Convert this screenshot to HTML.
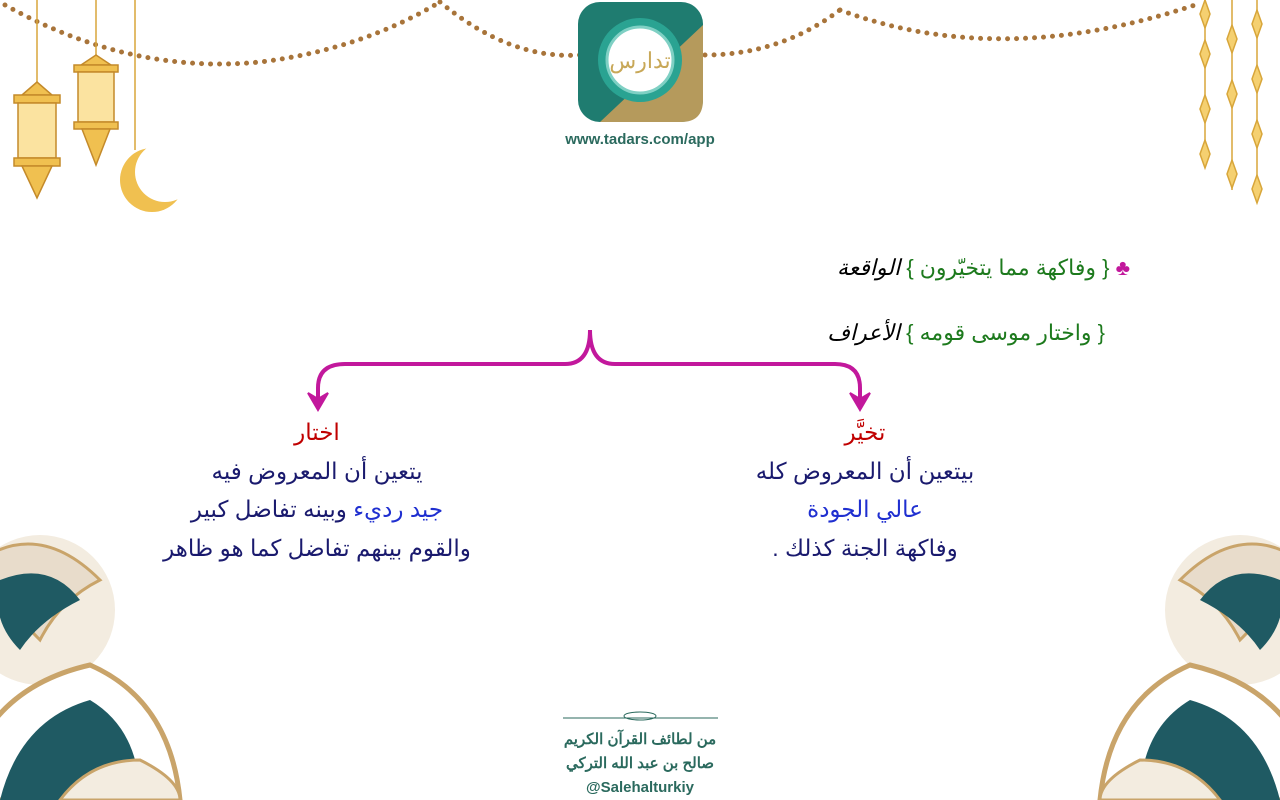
<!DOCTYPE html>
<html><head><meta charset="utf-8"><style>
html,body{margin:0;padding:0;background:#fff;}
#c{position:relative;width:1280px;height:800px;overflow:hidden;background:#fff;font-family:"Liberation Sans","DejaVu Sans",sans-serif;}
.t{position:absolute;direction:rtl;white-space:nowrap;font-size:23px;text-align:center;}
</style></head><body><div id="c">
<svg width="1280" height="800" style="position:absolute;left:0;top:0">
<defs><mask id="m"><rect x="100" y="130" width="100" height="100" fill="#fff"/><circle cx="165" cy="172" r="30" fill="#000"/></mask></defs>
<g fill="none" stroke="#a8743a" stroke-width="5" stroke-linecap="round" stroke-dasharray="0 9">
<path d="M5 5 Q130 75 260 62 Q360 50 440 2"/>
<path d="M440 2 Q510 60 580 55"/>
<path d="M705 55 Q780 55 840 10"/>
<path d="M840 10 Q1000 70 1195 5"/>
</g>
<g stroke="#d8a63a" stroke-width="1.5" fill="none">
<line x1="37" y1="0" x2="37" y2="85"/><line x1="96" y1="0" x2="96" y2="55"/><line x1="135" y1="0" x2="135" y2="150"/>
</g>
<g fill="#f0c050" stroke="#c48a2a" stroke-width="1.5">
<path d="M22 95 L37 82 L52 95 Z"/><rect x="14" y="95" width="46" height="8"/><rect x="18" y="103" width="38" height="55" fill="#fbe3a0"/>
<rect x="14" y="158" width="46" height="8"/><path d="M22 166 L37 198 L52 166Z"/>
<path d="M81 65 L96 55 L111 65Z"/><rect x="74" y="65" width="44" height="7"/><rect x="78" y="72" width="36" height="50" fill="#fbe3a0"/>
<rect x="74" y="122" width="44" height="7"/><path d="M82 129 L96 165 L110 129Z"/>
</g>
<circle cx="152" cy="180" r="32" fill="#f0c050" mask="url(#m)"/>
<g stroke="#d8a63a" stroke-width="1.5" fill="#f5d070">
<line x1="1205" y1="0" x2="1205" y2="165"/><line x1="1232" y1="0" x2="1232" y2="190"/><line x1="1257" y1="0" x2="1257" y2="200"/>
<path d="M1205 0 l5 14 -5 14 -5 -14z"/><path d="M1205 40 l5 14 -5 14 -5 -14z"/><path d="M1205 95 l5 14 -5 14 -5 -14z"/><path d="M1205 140 l5 14 -5 14 -5 -14z"/>
<path d="M1232 25 l5 14 -5 14 -5 -14z"/><path d="M1232 80 l5 14 -5 14 -5 -14z"/><path d="M1232 160 l5 14 -5 14 -5 -14z"/>
<path d="M1257 10 l5 14 -5 14 -5 -14z"/><path d="M1257 65 l5 14 -5 14 -5 -14z"/><path d="M1257 120 l5 14 -5 14 -5 -14z"/><path d="M1257 175 l5 14 -5 14 -5 -14z"/>
</g>
<rect x="578" y="2" width="125" height="120" rx="22" fill="#1f7c70"/>
<path d="M703 25 L703 100 Q703 122 681 122 L600 122 Z" fill="#b59a5c"/>
<circle cx="640" cy="60" r="42" fill="#2aa392"/>
<circle cx="640" cy="60" r="33" fill="#fff" stroke="#7fd0c4" stroke-width="3"/>
<text x="640" y="68" font-size="22" fill="#c8a858" text-anchor="middle" font-family="Noto Sans CJK SC, sans-serif">تدارس</text>
<text x="640" y="144" font-size="15" font-weight="bold" fill="#2b6a5e" text-anchor="middle" font-family="Liberation Sans">www.tadars.com/app</text>
<path d="M318 400 L318 388 Q318 364 345 364 L565 364 Q590 364 590 330 Q590 364 615 364 L835 364 Q860 364 860 388 L860 400" fill="none" stroke="#c2189c" stroke-width="4"/>
<path d="M308 393 L318 410 L328 393 L318 399Z" fill="#c2189c" stroke="#c2189c" stroke-width="2"/>
<path d="M850 393 L860 410 L870 393 L860 399Z" fill="#c2189c" stroke="#c2189c" stroke-width="2"/>
<line x1="563" y1="718" x2="718" y2="718" stroke="#2b6a5e" stroke-width="1"/>
<ellipse cx="640" cy="716" rx="16" ry="4" fill="none" stroke="#2b6a5e"/>
<g>
<circle cx="40" cy="610" r="75" fill="#f3ece0"/>
<path d="M-20 560 Q40 520 100 580 Q60 600 40 640 Q0 600 -20 560Z" fill="#e8dccb" stroke="#c9a46a" stroke-width="3"/>
<path d="M0 580 Q50 560 80 600 Q40 620 20 650 Q-10 620 0 580Z" fill="#1f5a63"/>
<path d="M-40 800 Q-20 690 90 665 Q170 700 180 800Z" fill="#fff" stroke="#c9a46a" stroke-width="5"/>
<path d="M0 800 Q20 720 90 700 Q140 730 140 800Z" fill="#1f5a63"/>
<path d="M60 800 Q90 760 140 760 Q180 780 180 800Z" fill="#f3ece0" stroke="#c9a46a" stroke-width="3"/>
</g>
<g transform="translate(1280,0) scale(-1,1)">
<circle cx="40" cy="610" r="75" fill="#f3ece0"/>
<path d="M-20 560 Q40 520 100 580 Q60 600 40 640 Q0 600 -20 560Z" fill="#e8dccb" stroke="#c9a46a" stroke-width="3"/>
<path d="M0 580 Q50 560 80 600 Q40 620 20 650 Q-10 620 0 580Z" fill="#1f5a63"/>
<path d="M-40 800 Q-20 690 90 665 Q170 700 180 800Z" fill="#fff" stroke="#c9a46a" stroke-width="5"/>
<path d="M0 800 Q20 720 90 700 Q140 730 140 800Z" fill="#1f5a63"/>
<path d="M60 800 Q90 760 140 760 Q180 780 180 800Z" fill="#f3ece0" stroke="#c9a46a" stroke-width="3"/>
</g>
</svg>
<div class="t" style="right:150px;top:255px;font-size:22px;color:#1d7a1d;"><span style="color:#c2189c">♣</span> { وفاكهة مما يتخيّرون } <i style="color:#000">الواقعة</i></div>
<div class="t" style="right:175px;top:320px;font-size:22px;color:#1d7a1d;">{ واختار موسى قومه } <i style="color:#000">الأعراف</i></div>
<div class="t" style="left:665px;width:400px;top:413px;line-height:38.5px;color:#1a1a6e;">
<span style="color:#c00000">تخيَّر</span><br>بيتعين أن المعروض كله<br><span style="color:#1f2fd0">عالي الجودة</span><br>وفاكهة الجنة كذلك .</div>
<div class="t" style="left:117px;width:400px;top:413px;line-height:38.5px;color:#1a1a6e;">
<span style="color:#c00000">اختار</span><br>يتعين أن المعروض فيه<br><span style="color:#1f2fd0">جيد رديء</span> وبينه تفاضل كبير<br>والقوم بينهم تفاضل كما هو ظاهر</div>
<div class="t" style="left:540px;width:200px;top:728px;font-size:15px;font-weight:bold;color:#2b6a5e;line-height:24px;font-family:'Liberation Sans','Noto Sans CJK SC',sans-serif;">من لطائف القرآن الكريم<br>صالح بن عبد الله التركي<br><span style="direction:ltr;unicode-bidi:embed">@Salehalturkiy</span></div>
</div></body></html>
